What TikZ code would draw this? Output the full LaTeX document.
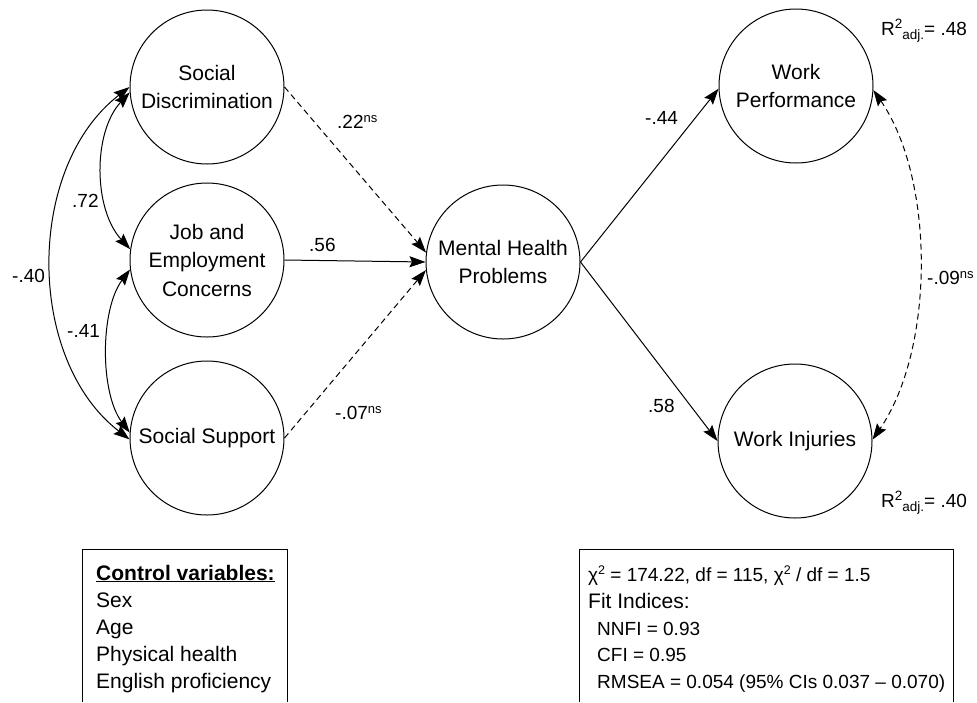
\documentclass[tikz,border=0pt]{standalone}
\usepackage{fontspec}
\setmainfont{Liberation Sans}
\usetikzlibrary{arrows.meta,calc}
% small raised "ns" mark and R^2 adj. label pieces
\newcommand\nsmark{\raisebox{5.5pt}{\fontsize{13}{13}\selectfont ns}}
\newcommand\radj{R\raisebox{7pt}{\fontsize{13.5}{13.5}\selectfont 2}\raisebox{-4pt}{\fontsize{13.5}{13.5}\selectfont adj.}}
\newcommand\chisq{χ\raisebox{7pt}{\fontsize{12.5}{12.5}\selectfont 2}}
\begin{document}
\begin{tikzpicture}[x=1pt,y=-1pt,
  latent/.style={circle,draw,line width=1pt,minimum size=154pt,inner sep=0pt,
    align=center,font=\fontsize{21}{28.5}\selectfont},
  effect/.style={line width=1pt,-{Stealth[length=16pt,width=11pt,inset=2.5pt]}},
  nseffect/.style={effect,dash pattern=on 6pt off 4pt},
  cov/.style={line width=1pt,{Stealth[length=16pt,width=11pt,inset=2.5pt]}-{Stealth[length=16pt,width=11pt,inset=2.5pt]}},
  nscov/.style={cov,dash pattern=on 6pt off 4pt},
  coef/.style={inner sep=0pt,anchor=base west,font=\fontsize{19}{24}\selectfont},
  boxtext/.style={inner sep=0pt,anchor=base west,font=\fontsize{21}{24}\selectfont},
  fittext/.style={inner sep=0pt,anchor=base west,font=\fontsize{19}{24}\selectfont}
]
\fill[white] (0,0) rectangle (977,702);
\useasboundingbox (0,0) rectangle (977,702);

% latent variables
\node[latent] (sd)  at (207,87)  {Social\\Discrimination};
\node[latent] (jec) at (207,260) {Job and\\Employment\\Concerns};
\node[latent] (ss)  at (207,438) {Social Support};
\node[latent] (mhp) at (503,262) {Mental Health\\Problems};
\node[latent] (wp)  at (796,86)  {Work\\Performance};
\node[latent] (wi)  at (795,441) {Work Injuries};

% paths into mental health problems
\draw[nseffect] (sd.east) -- (mhp.173);
\draw[effect]   (jec.east) -- (mhp.west);
\draw[nseffect] (ss.east) -- (mhp.186);

% paths out of mental health problems
\draw[effect] (mhp.east) -- (wp.182);
\draw[effect] (mhp.east) -- (wi.180);

% correlations among predictors
\draw[cov] (sd.184) .. controls +(-37,40) and +(-37,-40) .. (jec.172);
\draw[cov] (jec.187) .. controls +(-30,40) and +(-30,-40) .. (ss.176);
\draw[cov] (sd.180) .. controls +(-104,80) and +(-104,-80) .. (ss.181);

% residual correlation of outcomes
\draw[nscov] (wp.357) .. controls +(62,90) and +(62,-90) .. (wi.1);

% coefficients
\node[coef] (c1) at (337,128) {.22\nsmark};
\node[coef] (c2) at (309,251) {.56};
\node[coef] (c3) at (335,419) {-.07\nsmark};
\node[coef] (c4) at (72,207)  {.72};
\node[coef] (c5) at (12,282)  {-.40};
\node[coef] (c6) at (67,337)  {-.41};
\node[coef] (c7) at (645,124) {-.44};
\node[coef] (c8) at (648,412) {.58};
\node[coef] (c9) at (927,284) {-.09\nsmark};
\node[coef] (r1) at (881,35)  {\radj= .48};
\node[coef] (r2) at (881,507) {\radj= .40};

% control variables box
\draw[line width=1pt] (82,702) |- (287,549) -- (287,702);
\node[boxtext] (cv0) at (96,580) {\underline{\textbf{Control variables:}}};
\node[boxtext] (cv1) at (96,607) {Sex};
\node[boxtext] (cv2) at (96,634) {Age};
\node[boxtext] (cv3) at (96,661) {Physical health};
\node[boxtext] (cv4) at (96,688) {English proficiency};

% fit statistics box
\draw[line width=1pt] (579,702) |- (953,549) -- (953,702);
\node[fittext] (f0) at (588,581) {\chisq\ = 174.22, df = 115, \chisq\ / df = 1.5};
\node[boxtext] (f1) at (588,608) {Fit Indices:};
\node[fittext] (f2) at (597,635) {NNFI = 0.93};
\node[fittext] (f3) at (597,661) {CFI = 0.95};
\node[fittext] (f4) at (597,688) {RMSEA = 0.054 (95\% CIs 0.037 – 0.070)};
\end{tikzpicture}
\end{document}
